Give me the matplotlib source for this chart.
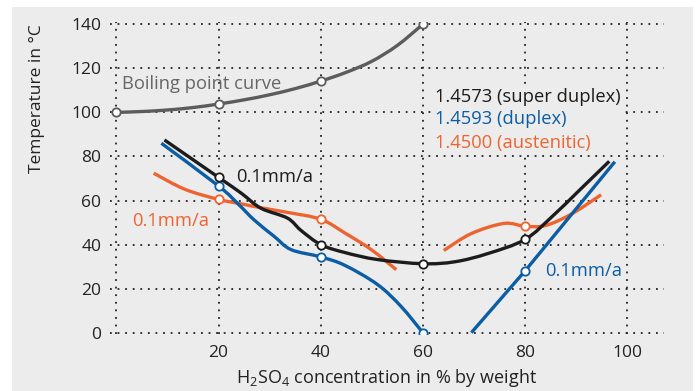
import numpy as np
import matplotlib.pyplot as plt
from matplotlib.patches import Rectangle, PathPatch
from matplotlib.path import Path

plt.rcParams['font.family'] = ['Open Sans', 'DejaVu Sans']
plt.rcParams['mathtext.fontset'] = 'custom'
plt.rcParams['mathtext.rm'] = 'Open Sans'
plt.rcParams['mathtext.it'] = 'Open Sans'

BG = "#ececec"
GRAY = "#5c5c5c"
BLACK = "#1c1c1c"
BLUE = "#0b5da4"
ORANGE = "#ee6430"

# boiling point curve
boil_x = [0, 5, 10, 15, 20, 25, 30, 35, 40, 45, 50, 55, 60]
boil_y = [100, 100.4, 101.1, 102.2, 103.8, 105.7, 108, 110.8, 114.2, 118.2, 123.2, 130.4, 140]
boil_mx = [0, 20, 40, 60]
boil_my = [100, 103.8, 114.2, 140]

# 1.4573 super duplex, 0.1 mm/a iso-corrosion line
sd_x = [9.4, 20, 24.4, 28.3, 33.5, 36.1, 40, 44.7, 51.1, 60, 66.3, 72.7, 80, 85.4, 90.5, 96.5]
sd_y = [87.5, 70.5, 63.4, 56.5, 52, 46.5, 40, 36.4, 33.2, 31.3, 32.2, 35.9, 42.3, 52.9, 64.3, 77.8]
sd_mx = [20, 40, 60, 80]
sd_my = [70.5, 40, 31.3, 42.3]

# 1.4593 duplex, two branches
dx_a = [8.8, 20, 23.8, 27, 30.9, 34.2, 40, 44.7, 51.1, 55.7, 60]
dx_ay = [86, 66.6, 58.5, 51.1, 43.7, 37.7, 34.4, 30.6, 21.9, 12, 0]
dx_b = [69.5, 80, 97.6]
dx_by = [0, 28, 77.6]
dx_mx = [20, 40, 60, 80]
dx_my = [66.6, 34.4, 0, 28]

# 1.4500 austenitic, two branches
au_a = [7.3, 13.4, 20, 24.4, 28.3, 33.5, 40, 44.7, 49.9, 54.8]
au_ay = [72.4, 65.1, 60.5, 58.5, 56.7, 54.6, 51.5, 45.3, 37.7, 28.6]
au_b = [64.1, 69.5, 75.9, 80, 84.1, 89.2, 94.9]
au_by = [37.3, 45, 49.6, 48.3, 48.7, 54, 62.6]
au_mx = [20, 40, 80]
au_my = [60.5, 51.5, 48.3]

y_ticks = [0, 20, 40, 60, 80, 100, 120, 140]
x_ticks = [0, 20, 40, 60, 80, 100]
x_labels = ["", "20", "40", "60", "80", "100"]


def smooth_path(xs, ys):
    # cubic bezier through the points (catmull-rom tangents)
    p = np.column_stack([xs, ys]).astype(float)
    n = len(p)
    verts = [p[0]]
    codes = [Path.MOVETO]
    for i in range(n - 1):
        p0 = p[i - 1] if i > 0 else p[i]
        p3 = p[i + 2] if i + 2 < n else p[i + 1]
        verts += [p[i] + (p[i + 1] - p0) / 6, p[i + 1] - (p3 - p[i]) / 6, p[i + 1]]
        codes += [Path.CURVE4] * 3
    return Path(verts, codes)


def curve(ax, xs, ys, color, lw):
    ax.add_patch(PathPatch(smooth_path(xs, ys), fill=False, edgecolor=color,
                           lw=lw, capstyle="butt", joinstyle="round", zorder=2))


fig = plt.figure(figsize=(6.97, 3.91), dpi=100)
fig.patch.set_facecolor("white")
fig.patches.append(Rectangle((12 / 697, 0), 681 / 697, 384 / 391,
                             transform=fig.transFigure, facecolor=BG,
                             edgecolor="none", zorder=-10))

ax = fig.add_axes([0.1575, 0.1458, 0.795, 0.7977])
ax.set_facecolor(BG)
ax.set_xlim(-1.3, 107.2)
ax.set_ylim(-0.6, 141)
for s in ax.spines.values():
    s.set_visible(False)

ax.set_xticks(x_ticks)
ax.set_xticklabels(x_labels)
ax.set_yticks(y_ticks)
ax.tick_params(length=0, labelsize=12.5, colors="#222222")
ax.tick_params(axis="y", pad=6)
ax.tick_params(axis="x", pad=8)
ax.grid(True, color="#222222", linestyle=(0, (1, 3.2)), linewidth=1.3)
ax.set_axisbelow(True)

# plain patch behind the material list so the grid does not run through it
ax.add_patch(Rectangle((61.5, 82), 37.5, 31, facecolor=BG, edgecolor="none", zorder=1.5))

lw = 2.4
mk = dict(marker="o", markersize=6, markerfacecolor="white",
          markeredgewidth=1.3, linestyle="none", zorder=5)

curve(ax, boil_x, boil_y, GRAY, lw)
ax.plot(boil_mx, boil_my, markeredgecolor=GRAY, **mk)

curve(ax, au_a, au_ay, ORANGE, lw)
curve(ax, au_b, au_by, ORANGE, lw)
ax.plot(au_mx, au_my, markeredgecolor=ORANGE, **mk)

curve(ax, dx_a, dx_ay, BLUE, lw)
ax.plot(dx_b, dx_by, color=BLUE, lw=lw, solid_capstyle="butt")
ax.plot(dx_mx, dx_my, markeredgecolor=BLUE, **mk)

curve(ax, sd_x, sd_y, BLACK, lw)
ax.plot(sd_mx, sd_my, markeredgecolor=BLACK, **mk)

fs = 13.2
ax.text(1, 112.9, "Boiling point curve", color="#666666", fontsize=fs, va="center")
ax.text(23.4, 70.8, "0.1mm/a", color=BLACK, fontsize=fs, va="center")
ax.text(3.1, 50.8, "0.1mm/a", color=ORANGE, fontsize=fs, va="center")
ax.text(84, 28.1, "0.1mm/a", color=BLUE, fontsize=fs, va="center")
ax.text(62.3, 107.1, "1.4573 (super duplex)", color=BLACK, fontsize=fs, va="center", zorder=6)
ax.text(62.3, 96.9, "1.4593 (duplex)", color=BLUE, fontsize=fs, va="center", zorder=6)
ax.text(62.3, 86, "1.4500 (austenitic)", color=ORANGE, fontsize=fs, va="center", zorder=6)

ax.set_ylabel("Temperature in °C", fontsize=12.5, color="#222222")
ax.yaxis.set_label_coords(-0.117, 0.755)
ax.set_xlabel("H$_2$SO$_4$ concentration in % by weight", fontsize=13,
              color="#222222", labelpad=4)

fig.savefig("out.png", dpi=100, facecolor=fig.get_facecolor())
